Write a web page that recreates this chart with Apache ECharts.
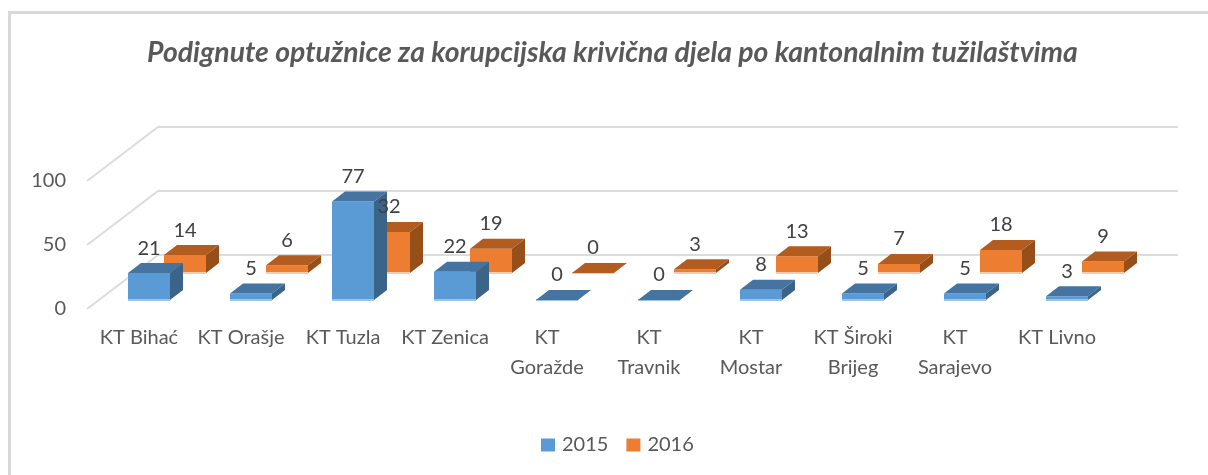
<!DOCTYPE html>
<html>
<head>
<meta charset="utf-8">
<title>Podignute optužnice</title>
<script src="https://cdn.jsdelivr.net/npm/echarts@6/dist/echarts.min.js"></script>
<style>
  html, body { margin: 0; padding: 0; background: #fff; }
  #chart { width: 1208px; height: 475px; }
</style>
</head>
<body>
<div id="chart"></div>
<script>
  var categories = ['KT Bihać', 'KT Orašje', 'KT Tuzla', 'KT Zenica', 'KT\nGoražde', 'KT\nTravnik', 'KT\nMostar', 'KT Široki\nBrijeg', 'KT\nSarajevo', 'KT Livno'];
  var values2015 = [21, 5, 77, 22, 0, 0, 8, 5, 5, 3];
  var values2016 = [14, 6, 32, 19, 0, 3, 13, 7, 18, 9];
  var yTicks = [0, 50, 100];

  // 3d box look: front face + top + side, pushed back from the axis plane
  function boxRenderer(front, top, side, edge, dx, dy, layer) {
    return function (params, api) {
      var i = api.value(0);
      var v = api.value(1);
      var base = api.coord([i, 0]);
      var head = api.coord([i, v]);
      var w = 42, depthX = 13, depthY = 10;
      var x = base[0] + dx;
      var y0 = base[1] + dy;
      var y1 = head[1] + dy;
      return {
        type: 'group',
        children: [
          { type: 'rect', z2: layer, shape: { x: x, y: y1, width: w, height: y0 - y1 }, style: { fill: front } },
          { type: 'rect', z2: layer, shape: { x: x, y: y0 - 1, width: w, height: 2 }, style: { fill: edge } },
          { type: 'polygon', z2: layer, shape: { points: [[x, y1], [x + depthX, y1 - depthY], [x + w + depthX, y1 - depthY], [x + w, y1]] }, style: { fill: top } },
          { type: 'polygon', z2: layer, shape: { points: [[x + w, y1], [x + w + depthX, y1 - depthY], [x + w + depthX, y0 - depthY], [x + w, y0]] }, style: { fill: side } },
          { type: 'text', z2: 50, style: { text: String(v), x: x + 21, y: y1 - 25, align: 'center', verticalAlign: 'middle', fill: '#404040', font: '20px Lato' } }
        ]
      };
    };
  }

  // back wall and side wall lines
  function wallRenderer(params, api) {
    var y = api.coord([0, api.value(1)])[1];
    return {
      type: 'polyline',
      shape: { points: [[87, y], [158, y - 54], [1178, y - 54]] },
      style: { fill: 'none', stroke: '#DCDCDC', lineWidth: 2 }
    };
  }

  var chart = echarts.init(document.getElementById('chart'));
  chart.setOption({
    animation: false,
    backgroundColor: '#fff',
    // chart frame, only top and left are in the picture
    graphic: [
      { type: 'rect', left: 8, top: 11, shape: { width: 1200, height: 3 }, style: { fill: '#D9D9D9' } },
      { type: 'rect', left: 8, top: 11, shape: { width: 3, height: 464 }, style: { fill: '#D9D9D9' } }
    ],
    title: {
      text: 'Podignute optužnice za korupcijska krivična djela po kantonalnim tužilaštvima',
      left: 147,
      top: 39,
      padding: 0,
      textStyle: { fontFamily: 'Lato', fontStyle: 'italic', fontWeight: 'bold', fontSize: 28.4, color: '#595959' }
    },
    legend: {
      data: ['2015', '2016'],
      left: 541,
      top: 435,
      padding: 0,
      icon: 'rect',
      itemWidth: 14,
      itemHeight: 13,
      itemGap: 18,
      textStyle: { fontFamily: 'Lato', fontSize: 20, color: '#595959', padding: [0, 0, 0, 2] }
    },
    grid: { left: 88, width: 1020, top: 181, height: 128 },
    xAxis: {
      type: 'category',
      data: categories,
      axisLine: { show: false },
      axisTick: { show: false },
      axisLabel: { interval: 0, margin: 14, lineHeight: 30, fontFamily: 'Lato', fontSize: 20, color: '#595959' }
    },
    yAxis: {
      type: 'value',
      min: 0,
      max: 100,
      interval: 50,
      axisLine: { show: false },
      axisTick: { show: false },
      splitLine: { show: false },
      axisLabel: { margin: 22, fontFamily: 'Lato', fontSize: 20, color: '#595959' }
    },
    series: [
      {
        name: 'walls',
        type: 'custom',
        z: 1,
        silent: true,
        renderItem: wallRenderer,
        data: yTicks.map(function (t) { return [0, t]; })
      },
      {
        name: '2016',
        type: 'custom',
        z: 2,
        itemStyle: { color: '#ED7D31' },
        renderItem: boxRenderer('#ED7D31', '#B35C1F', '#974F19', '#F8CBAD', 25, -36, 5),
        data: values2016.map(function (v, i) { return [i, v]; })
      },
      {
        name: '2015',
        type: 'custom',
        z: 2,
        itemStyle: { color: '#5B9BD5' },
        renderItem: boxRenderer('#5B9BD5', '#4574A1', '#3A6589', '#9DC3E6', -11, -9, 10),
        data: values2015.map(function (v, i) { return [i, v]; })
      }
    ]
  });
</script>
</body>
</html>
